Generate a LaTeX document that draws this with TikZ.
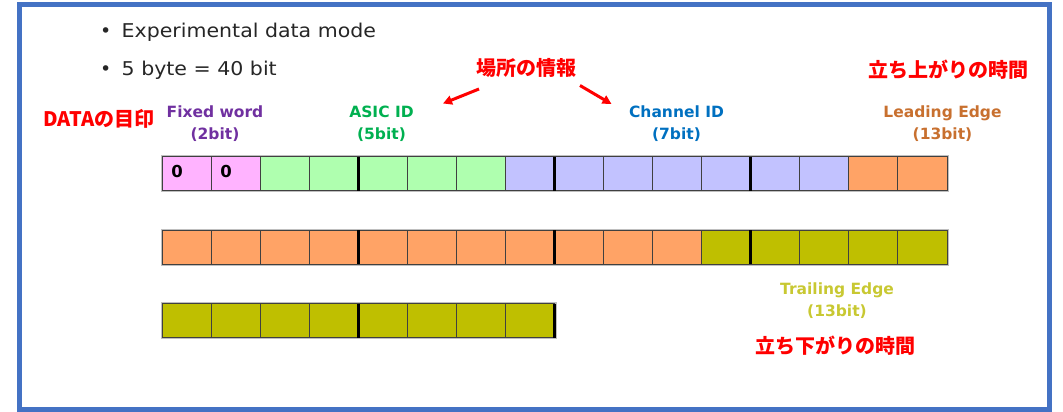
\documentclass[tikz,border=0pt]{standalone}
\usepackage{fontspec}
\usepackage{graphicx}
\setmainfont{DejaVu Sans}
\newfontfamily\jp{Noto Sans CJK JP}
\usetikzlibrary{arrows.meta}
\definecolor{frameblue}{HTML}{4472C4}
\definecolor{pinkc}{HTML}{FFB3FF}
\definecolor{greenc}{HTML}{AFFFAF}
\definecolor{lavc}{HTML}{C2C2FF}
\definecolor{orangec}{HTML}{FFA366}
\definecolor{olivec}{HTML}{BFBF00}
\definecolor{purpletxt}{HTML}{7030A0}
\definecolor{greentxt}{HTML}{00B050}
\definecolor{bluetxt}{HTML}{0070C0}
\definecolor{orangetxt}{HTML}{C8702F}
\definecolor{olivetxt}{HTML}{C8C832}
\definecolor{bodytxt}{HTML}{262626}
\definecolor{redtxt}{HTML}{FF0000}
\definecolor{cellline}{HTML}{404040}
\begin{document}
\begin{tikzpicture}[x=1pt,y=-1pt,
  cell/.style={draw=cellline, line width=1pt, inner sep=0pt, outer sep=0pt,
    minimum width=49.0625pt, minimum height=34pt},
  sepline/.style={black, line width=2.6pt},
  halo/.style={draw=black!25, line width=3pt},
  zero/.style={font=\bfseries\fontsize{16.5}{16.5}\selectfont, text=black, inner sep=0pt},
  fieldlabel/.style={font=\bfseries\fontsize{15.5}{22}\selectfont, align=center, inner sep=0pt},
  redlabel/.style={font=\jp\bfseries\fontsize{20}{20}\selectfont, text=redtxt, inner sep=0pt},
  bodytext/.style={font=\fontsize{19}{19}\selectfont, text=bodytxt, inner sep=0pt, anchor=west},
  redarrow/.style={draw=redtxt, line width=3pt, -{Triangle[length=9pt,width=9pt]}}
]
\useasboundingbox (0,0) rectangle (1063,412);
\draw[frameblue, line width=5.5pt] (19.5,4.5) rectangle (1049.5,409.5);

% bullets
\node[bodytext] (b1) at (100,32) {\makebox[21.5pt][l]{•}\scalebox{1.08}[1]{Experimental data mode}};
\node[bodytext] (b2) at (100,70) {\makebox[21.5pt][l]{•}\scalebox{1.08}[1]{5 byte = 40 bit}};

% halos
\draw[halo] (162,156.5) rectangle (947.5,190.5);
\draw[halo] (162,230) rectangle (947.5,264);
\draw[halo] (162,303.5) rectangle (555,337.5);

% row 1
\foreach \c [count=\i] in {pinkc,pinkc,greenc,greenc,greenc,greenc,greenc,lavc,lavc,lavc,lavc,lavc,lavc,lavc,orangec,orangec}
  \node[cell, fill=\c] (r1c\i) at ({162+(\i-0.5)*49.0625},173.5) {};
% row 2
\foreach \c [count=\i] in {orangec,orangec,orangec,orangec,orangec,orangec,orangec,orangec,orangec,orangec,orangec,olivec,olivec,olivec,olivec,olivec}
  \node[cell, fill=\c] (r2c\i) at ({162+(\i-0.5)*49.0625},247) {};
% row 3
\foreach \c [count=\i] in {olivec,olivec,olivec,olivec,olivec,olivec,olivec,olivec}
  \node[cell, fill=\c] (r3c\i) at ({162+(\i-0.5)*49.0625},320.5) {};

% thick separators
\foreach \k in {4,8,12} {
  \draw[sepline] (r1c\k.north east) -- (r1c\k.south east);
  \draw[sepline] (r2c\k.north east) -- (r2c\k.south east);
}
\foreach \k in {4,8}
  \draw[sepline] (r3c\k.north east) -- (r3c\k.south east);

% zeros
\node[zero] (z1) at ([xshift=-9.5pt,yshift=1.8pt]r1c1.center) {0};
\node[zero] (z2) at ([xshift=-9.5pt,yshift=1.8pt]r1c2.center) {0};

% field labels
\node[fieldlabel, text=purpletxt] (lfix) at (215,124) {Fixed word\\(2bit)};
\node[fieldlabel, text=greentxt] (lasic) at (381.5,124) {ASIC ID\\(5bit)};
\node[fieldlabel, text=bluetxt] (lch) at (676.5,124) {Channel ID\\(7bit)};
\node[fieldlabel, text=orangetxt] (llead) at (942.5,124) {Leading Edge\\(13bit)};
\node[fieldlabel, text=olivetxt] (ltrail) at (837,301) {Trailing Edge\\(13bit)};

% red labels
\node[redlabel] (rdata) at (99,119) {DATAの目印};
\node[redlabel] (rplace) at (526,68) {場所の情報};
\node[redlabel] (rrise) at (948,70) {立ち上がりの時間};
\node[redlabel] (rfall) at (835,346) {立ち下がりの時間};

% arrows
\coordinate (a1s) at (479,89);
\coordinate (a1e) at (443,103.5);
\coordinate (a2s) at (580,85.5);
\coordinate (a2e) at (611.5,104);
\draw[redarrow] (a1s) -- (a1e);
\draw[redarrow] (a2s) -- (a2e);
\end{tikzpicture}
\end{document}
